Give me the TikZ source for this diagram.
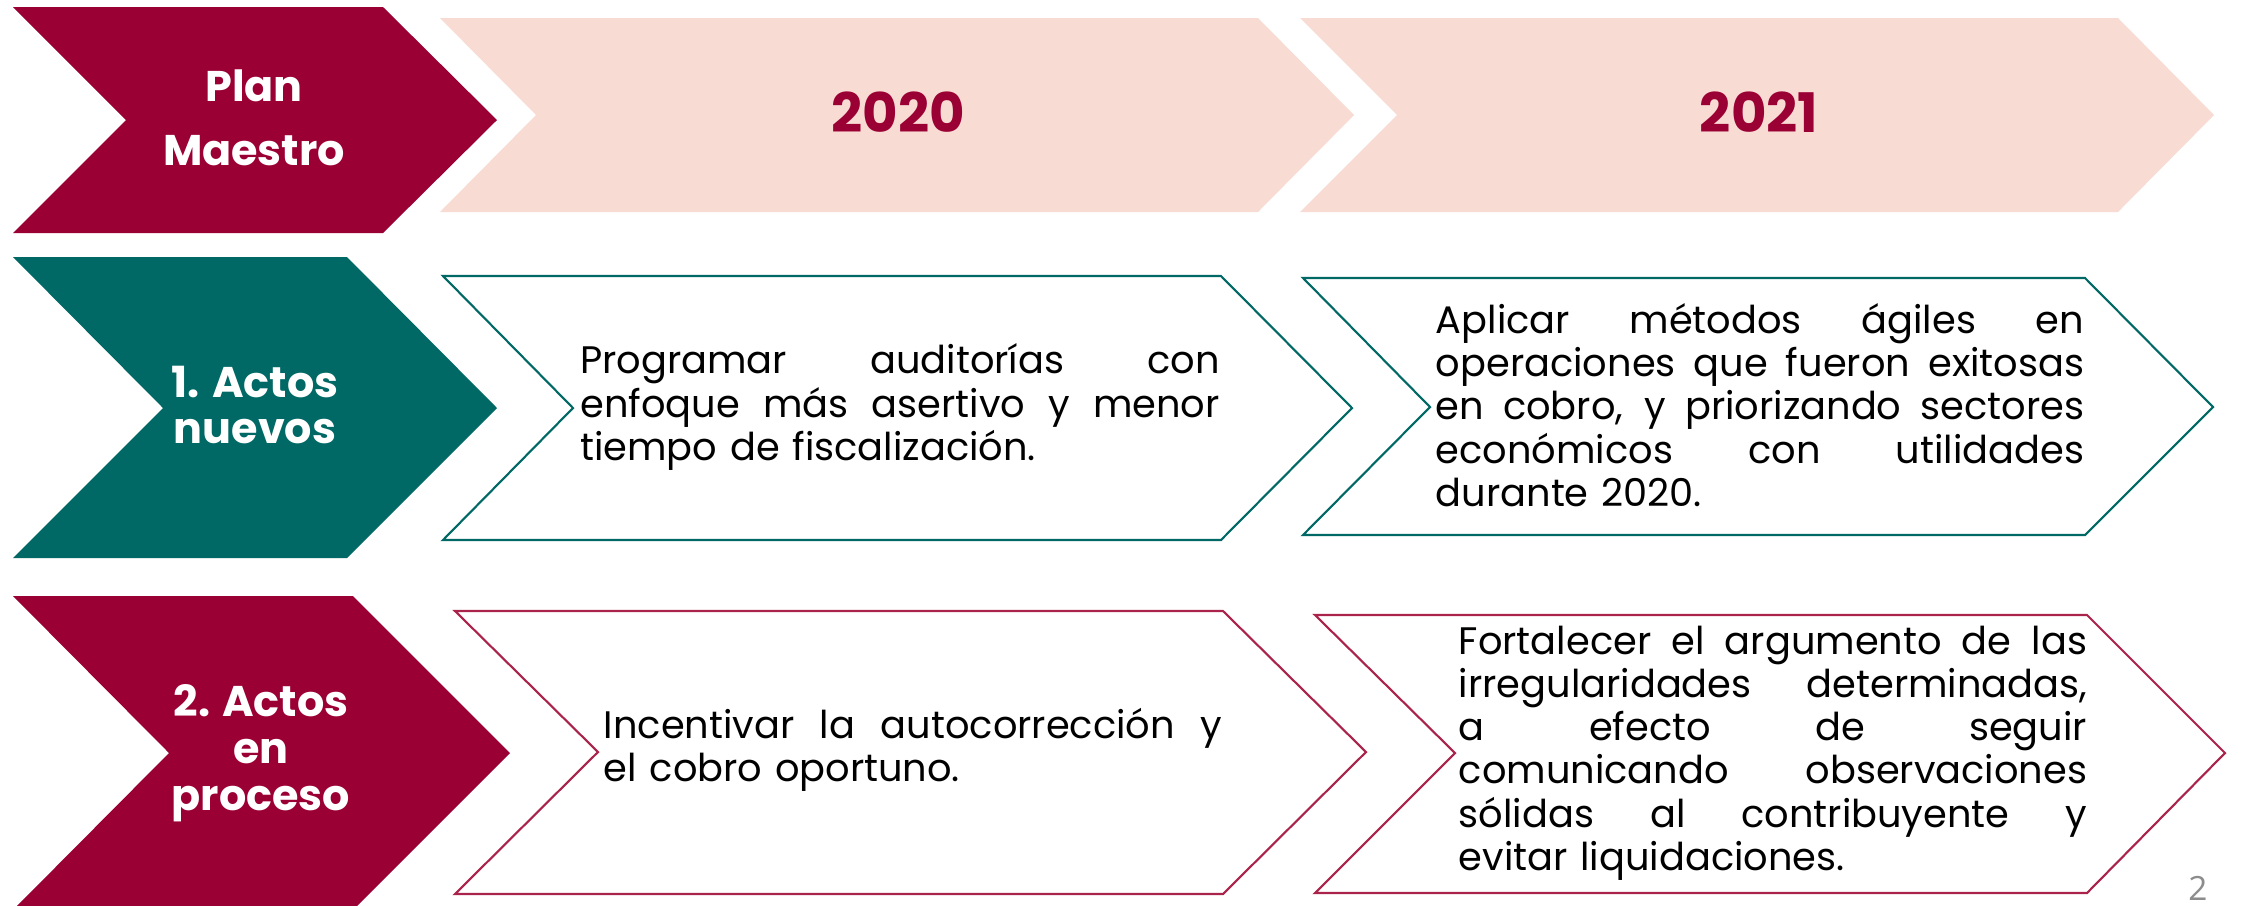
\documentclass[tikz,border=0pt]{standalone}
\usepackage{fontspec}
\setmainfont{Poppins}
\newfontfamily\pnumfont{Open Sans}
\definecolor{burg}{RGB}{155,0,52}
\definecolor{teal1}{RGB}{0,104,101}
\definecolor{pinkbg}{RGB}{248,219,211}
\definecolor{burgline}{RGB}{170,35,75}
\definecolor{pnumgray}{RGB}{140,140,140}
\newcommand{\jl}[2]{\hbox to #1{\spaceskip=0.26em plus 1fil\relax #2}\par}
\tikzset{
  chevfill/.style={fill=#1,draw=none},
  chevline/.style={draw=#1,line width=0.6pt,fill=white},
  headtxt/.style={text=white,align=center,inner sep=0pt,font=\bfseries\fontsize{12.2}{#1}\selectfont},
  yeartxt/.style={text=burg,inner sep=0pt,font=\bfseries\fontsize{15.5}{18}\selectfont},
  bodytxt/.style={text=black,inner sep=0pt,align=left,text width=#1,
    font=\fontsize{10.9}{12.3}\selectfont,
    execute at begin node={\setlength{\parindent}{0pt}}},
}
\begin{document}
\begin{tikzpicture}[x=0.01cm,y=-0.01cm]
\clip (0,0) rectangle (2242,905);
\fill[white] (0,0) rectangle (2242,905);
% header row
\path[chevfill=burg] (13,7) -- (383,7) -- (497,120) -- (383,233) -- (13,233) -- (126,120) -- cycle;
\path[chevfill=pinkbg] (440,18) -- (1258,18) -- (1354,115) -- (1258,212) -- (440,212) -- (536,115) -- cycle;
\path[chevfill=pinkbg] (1300,18) -- (2118,18) -- (2214,115) -- (2118,212) -- (1300,212) -- (1397,115) -- cycle;
\node[headtxt=18.2pt] (plan) at (254,118) {Plan\\Maestro};
\node[yeartxt] (y2020) at (898,112) {2020};
\node[yeartxt] (y2021) at (1759,112) {2021};
% row 1
\path[chevfill=teal1] (13,257) -- (347,257) -- (497,408) -- (347,558) -- (13,558) -- (163,408) -- cycle;
\path[chevline=teal1] (443,276) -- (1221,276) -- (1352,408) -- (1221,540) -- (443,540) -- (573,408) -- cycle;
\path[chevline=teal1] (1303,278) -- (2085,278) -- (2213,407) -- (2085,535) -- (1303,535) -- (1430,407) -- cycle;
\node[headtxt=13.1pt] (actos1) at (255,405) {1. Actos\\nuevos};
\node[bodytxt=6.39cm] (t1a) at (900,407) {\jl{6.39cm}{Programar auditorías con}\jl{6.39cm}{enfoque más asertivo y menor}tiempo de fiscalización.};
\node[bodytxt=6.48cm] (t1b) at (1760,405) {\jl{6.48cm}{Aplicar métodos ágiles en}\jl{6.48cm}{operaciones que fueron exitosas}\jl{6.48cm}{en cobro, y priorizando sectores}\jl{6.48cm}{económicos con utilidades}durante 2020.};
% row 2
\path[chevfill=burg] (13,596) -- (353,596) -- (510,753) -- (353,910) -- (13,910) -- (169,753) -- cycle;
\path[chevline=burgline] (455,611) -- (1223,611) -- (1366,752) -- (1223,894) -- (455,894) -- (598,752) -- cycle;
\path[chevline=burgline] (1315,615) -- (2087,615) -- (2225,753) -- (2087,893) -- (1315,893) -- (1455,753) -- cycle;
\node[headtxt=13.3pt] (actos2) at (261,753) {2. Actos\\en\\proceso};
\node[bodytxt=6.18cm] (t2a) at (913,750) {\jl{6.18cm}{Incentivar la autocorrección y}el cobro oportuno.};
\node[bodytxt=6.28cm] (t2b) at (1773,753) {\jl{6.28cm}{Fortalecer el argumento de las}\jl{6.28cm}{irregularidades determinadas,}\jl{6.28cm}{a efecto de seguir}\jl{6.28cm}{comunicando observaciones}\jl{6.28cm}{sólidas al contribuyente y}evitar liquidaciones.};
\node[text=pnumgray,inner sep=0pt,font=\pnumfont\fontsize{9.5}{11}\selectfont] (pnum) at (2198,888) {2};
\end{tikzpicture}
\end{document}
